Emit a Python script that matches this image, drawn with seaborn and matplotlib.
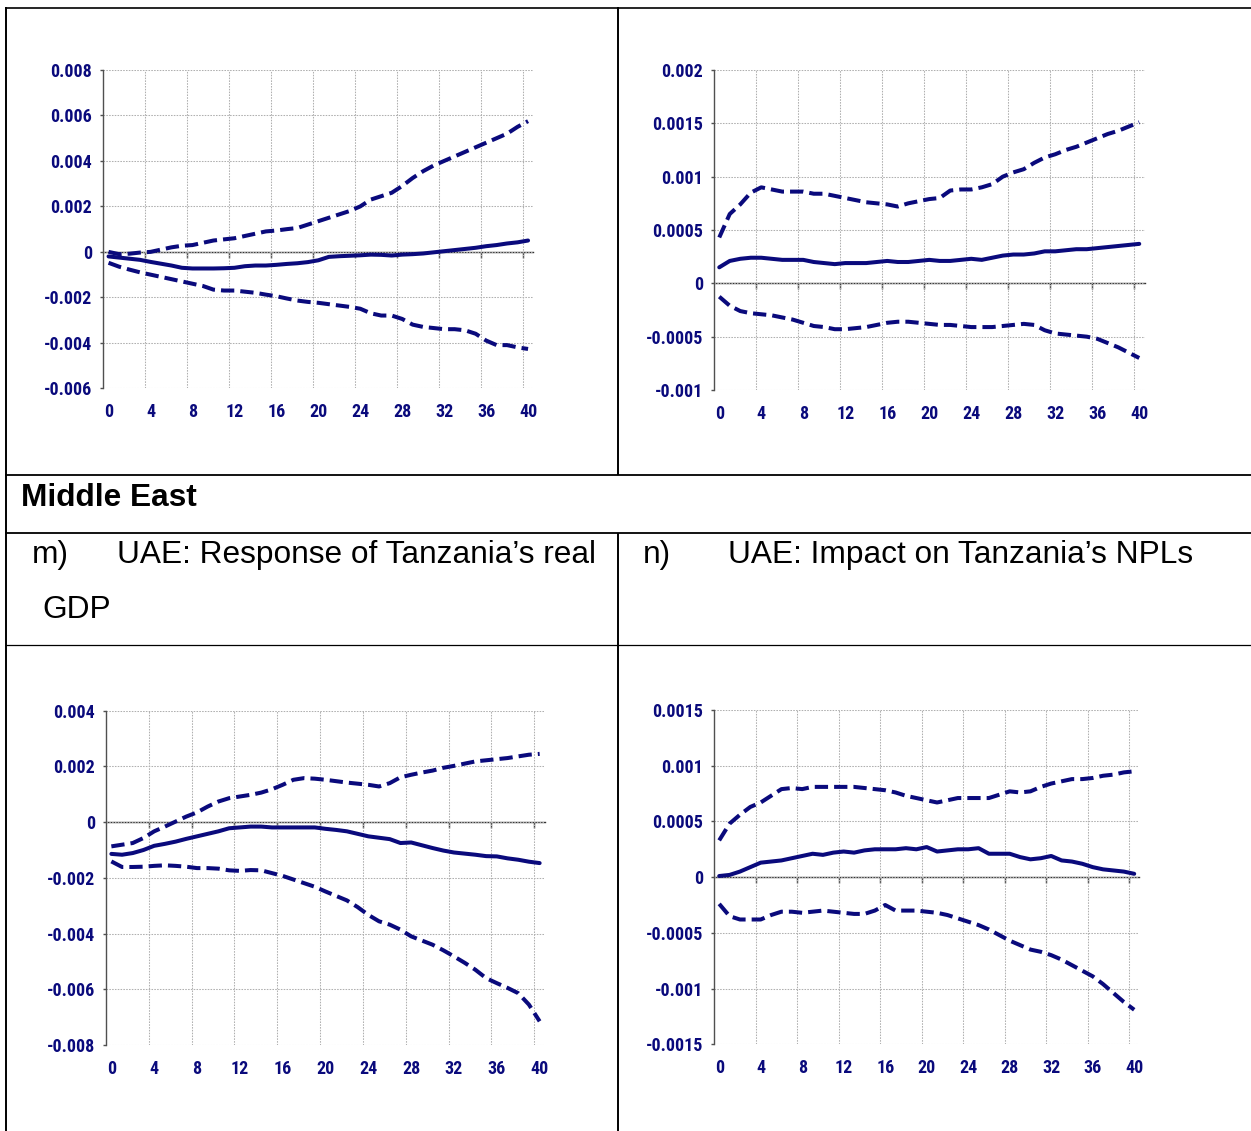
import numpy as np
import pandas as pd
import matplotlib
matplotlib.use("Agg")
import matplotlib.pyplot as plt
import seaborn as sns
from matplotlib.lines import Line2D
from matplotlib import font_manager

# ---------------- data ----------------
steps = list(range(41))
x_tick_labels = ["0", "4", "8", "12", "16", "20", "24", "28", "32", "36", "40"]

# top-left panel
tl_upper = [0.0, -0.0001, -0.00008, -0.00003, 0.0, 0.0001, 0.0002, 0.00027, 0.0003, 0.0004,
            0.0005, 0.00055, 0.0006, 0.0007, 0.0008, 0.0009, 0.00094, 0.001, 0.00105, 0.0012,
            0.00135, 0.0015, 0.00165, 0.0018, 0.002, 0.0023, 0.00245, 0.0026, 0.0029, 0.00325,
            0.00355, 0.0038, 0.004, 0.0042, 0.0044, 0.0046, 0.0048, 0.005, 0.0052, 0.0055, 0.00575]
tl_mid = [-0.0002, -0.00025, -0.0003, -0.00035, -0.00044, -0.00052, -0.0006, -0.0007, -0.00073, -0.00073,
          -0.00073, -0.00072, -0.0007, -0.00063, -0.0006, -0.0006, -0.00057, -0.00053, -0.0005, -0.00045,
          -0.00037, -0.00022, -0.00019, -0.00017, -0.00015, -0.00012, -0.00013, -0.00016, -0.00012, -0.0001,
          -0.00007, -0.00002, 0.00003, 0.00008, 0.00013, 0.00018, 0.00025, 0.0003, 0.00037, 0.00042, 0.0005]
tl_lower = [-0.00048, -0.00065, -0.00078, -0.0009, -0.001, -0.0011, -0.0012, -0.0013, -0.0014, -0.0015,
            -0.00166, -0.0017, -0.0017, -0.00175, -0.0018, -0.00188, -0.00195, -0.00205, -0.00214, -0.0022,
            -0.00224, -0.0023, -0.00236, -0.00242, -0.0025, -0.0027, -0.0028, -0.0028, -0.00295, -0.0032,
            -0.0033, -0.00335, -0.0034, -0.0034, -0.00345, -0.0036, -0.0039, -0.0041, -0.0041, -0.0042, -0.00427]
tl_yticks = [-0.006, -0.004, -0.002, 0.0, 0.002, 0.004, 0.006, 0.008]
tl_ylabels = ["-0.006", "-0.004", "-0.002", "0", "0.002", "0.004", "0.006", "0.008"]

# top-right panel
tr_upper = [0.00043, 0.00065, 0.00074, 0.00085, 0.0009, 0.00088, 0.00086, 0.00086, 0.00086, 0.00084,
            0.00084, 0.00082, 0.0008, 0.00078, 0.00076, 0.00075, 0.00074, 0.00072, 0.00075, 0.00077,
            0.00079, 0.0008, 0.00087, 0.00088, 0.00088, 0.0009, 0.00093, 0.001, 0.00104, 0.00107,
            0.00113, 0.00118, 0.00121, 0.00125, 0.00128, 0.00132, 0.00136, 0.0014, 0.00143, 0.00147, 0.00151]
tr_mid = [0.00015, 0.00021, 0.00023, 0.00024, 0.00024, 0.00023, 0.00022, 0.00022, 0.00022, 0.0002,
          0.00019, 0.00018, 0.00019, 0.00019, 0.00019, 0.0002, 0.00021, 0.0002, 0.0002, 0.00021,
          0.00022, 0.00021, 0.00021, 0.00022, 0.00023, 0.00022, 0.00024, 0.00026, 0.00027, 0.00027,
          0.00028, 0.0003, 0.0003, 0.00031, 0.00032, 0.00032, 0.00033, 0.00034, 0.00035, 0.00036, 0.00037]
tr_lower = [-0.000125, -0.00021, -0.00026, -0.00028, -0.00029, -0.0003, -0.00032, -0.00034, -0.00037, -0.0004,
            -0.00041, -0.00043, -0.00043, -0.00042, -0.00041, -0.00039, -0.00037, -0.00036, -0.00036, -0.00037,
            -0.00038, -0.00039, -0.00039, -0.0004, -0.00041, -0.00041, -0.00041, -0.0004, -0.00039, -0.00038,
            -0.00039, -0.00044, -0.00047, -0.00048, -0.00049, -0.0005, -0.00052, -0.00056, -0.0006, -0.00065, -0.0007]
tr_yticks = [-0.001, -0.0005, 0.0, 0.0005, 0.001, 0.0015, 0.002]
tr_ylabels = ["-0.001", "-0.0005", "0", "0.0005", "0.001", "0.0015", "0.002"]

# bottom-left panel: UAE -> Tanzania real GDP
bl_upper = [-0.00087, -0.00081, -0.00075, -0.00057, -0.00033, -0.00016, 0.00002, 0.0002, 0.00035, 0.00056,
            0.00074, 0.00086, 0.00092, 0.00098, 0.00106, 0.00118, 0.00134, 0.00152, 0.00158, 0.00156,
            0.00152, 0.00147, 0.00142, 0.00138, 0.00134, 0.00128, 0.0014, 0.00161, 0.0017, 0.00178,
            0.00185, 0.00195, 0.00202, 0.0021, 0.00218, 0.00222, 0.00226, 0.0023, 0.00236, 0.00242, 0.00245]
bl_mid = [-0.00114, -0.00117, -0.00111, -0.001, -0.00085, -0.00078, -0.0007, -0.0006, -0.00051, -0.00042,
          -0.00033, -0.00022, -0.00019, -0.00016, -0.00016, -0.00019, -0.00019, -0.00019, -0.00019, -0.00019,
          -0.00024, -0.00028, -0.00033, -0.00042, -0.00051, -0.00056, -0.00061, -0.00075, -0.00073, -0.00083,
          -0.00093, -0.00102, -0.00109, -0.00113, -0.00117, -0.00122, -0.00123, -0.0013, -0.00135, -0.00142, -0.00147]
bl_lower = [-0.00141, -0.00161, -0.00161, -0.0016, -0.00157, -0.00155, -0.00157, -0.0016, -0.00165, -0.00165,
            -0.00167, -0.00173, -0.00175, -0.00172, -0.00173, -0.00183, -0.00193, -0.00206, -0.00219, -0.00232,
            -0.00249, -0.00265, -0.00281, -0.00305, -0.00333, -0.00356, -0.00368, -0.00386, -0.0041, -0.00425,
            -0.0044, -0.0046, -0.00482, -0.00505, -0.0053, -0.0056, -0.00578, -0.00595, -0.00614, -0.00655, -0.00715]
bl_yticks = [-0.008, -0.006, -0.004, -0.002, 0.0, 0.002, 0.004]
bl_ylabels = ["-0.008", "-0.006", "-0.004", "-0.002", "0", "0.002", "0.004"]

# bottom-right panel: UAE -> Tanzania NPLs
br_upper = [0.00033, 0.00048, 0.00056, 0.00063, 0.00067, 0.00073, 0.00079, 0.0008, 0.00079, 0.00081,
            0.00081, 0.00081, 0.00081, 0.00081, 0.0008, 0.00079, 0.00078, 0.00076, 0.00073, 0.00071,
            0.00069, 0.00067, 0.00069, 0.00071, 0.00071, 0.00071, 0.00071, 0.00074, 0.00077, 0.00076,
            0.00077, 0.00081, 0.00084, 0.00086, 0.00088, 0.00088, 0.00089, 0.00091, 0.00092, 0.00094, 0.00095]
br_mid = [0.00001, 0.00002, 0.00005, 0.00009, 0.00013, 0.00014, 0.00015, 0.00017, 0.00019, 0.00021,
          0.0002, 0.00022, 0.00023, 0.00022, 0.00024, 0.00025, 0.00025, 0.00025, 0.00026, 0.00025,
          0.00027, 0.00023, 0.00024, 0.00025, 0.00025, 0.00026, 0.00021, 0.00021, 0.00021, 0.00018,
          0.00016, 0.00017, 0.00019, 0.00015, 0.00014, 0.00012, 0.00009, 0.00007, 0.00006, 0.00005, 0.00003]
br_lower = [-0.00024, -0.00035, -0.00038, -0.00038, -0.00038, -0.00034, -0.00031, -0.00031, -0.00032, -0.00031,
            -0.0003, -0.00031, -0.00032, -0.00033, -0.00033, -0.0003, -0.00025, -0.0003, -0.0003, -0.0003,
            -0.00031, -0.00032, -0.00034, -0.00037, -0.0004, -0.00043, -0.00047, -0.00052, -0.00057, -0.00061,
            -0.00065, -0.00067, -0.0007, -0.00074, -0.00079, -0.00084, -0.00089, -0.00096, -0.00104, -0.00112, -0.00119]
br_yticks = [-0.0015, -0.001, -0.0005, 0.0, 0.0005, 0.001, 0.0015]
br_ylabels = ["-0.0015", "-0.001", "-0.0005", "0", "0.0005", "0.001", "0.0015"]

section_title = "Middle East"
m_label, m_title, m_title2 = "m)", "UAE: Response of Tanzania\u2019s real", "GDP"
n_label, n_title = "n)", "UAE: Impact on Tanzania\u2019s NPLs"

# ---------------- style ----------------
sns.set_style("white")
plt.rcParams["font.family"] = ["Liberation Sans", "DejaVu Sans"]
plt.rcParams["text.color"] = "black"

# pick a condensed bold face for the tick labels if one is installed
TICK_FONT = None
TICK_SIZE = 11.0
for fam in ["Liberation Sans Narrow", "DejaVu Sans Condensed", "Roboto Condensed",
            "Open Sans Condensed", "Noto Sans Condensed", "Arial Narrow"]:
    try:
        font_manager.findfont(font_manager.FontProperties(family=fam, weight="bold"),
                              fallback_to_default=False)
        TICK_FONT = [fam, "DejaVu Sans"]
        TICK_SIZE = 13.0
        break
    except Exception:
        pass
if TICK_FONT is None:
    TICK_FONT = ["Liberation Sans", "DejaVu Sans"]

NAVY = "#0a0a7c"
W, H = 1251, 1131
fig = plt.figure(figsize=(W / 100, H / 100), dpi=100)
fig.patch.set_facecolor("white")

# background axes for the document table
bg = fig.add_axes([0, 0, 1, 1], zorder=-5)
bg.set_xlim(0, W)
bg.set_ylim(H, 0)
bg.axis("off")


def hline(y, x0, x1, lw):
    bg.add_line(Line2D([x0, x1], [y, y], color="black", lw=lw, solid_capstyle="butt"))


def vline(x, y0, y1, lw):
    bg.add_line(Line2D([x, x], [y0, y1], color="black", lw=lw, solid_capstyle="butt"))


hline(7.5, 5, W, 1.2)
hline(475.3, 5, W, 1.3)
hline(532.7, 5, W, 1.3)
hline(644.5, 5, W, 0.9)
vline(6, 6.5, H, 1.4)
vline(618, 6.5, 475.3, 1.4)
vline(618, 532.7, H, 1.4)

TXT = dict(fontsize=22.8, va="baseline", ha="left", color="black")
bg.text(21, 506.5, section_title, fontweight="bold", **TXT)
bg.text(32, 563.5, m_label, **TXT)
bg.text(117, 563.5, m_title, **TXT)
bg.text(42, 617.5, m_title2, **TXT)
bg.text(643, 563.5, n_label, **TXT)
bg.text(728, 563.5, n_title, **TXT)


def panel(l, t, r, b, lower, mid, upper, yticks, ylabels):
    ax = fig.add_axes([l / W, 1 - b / H, (r - l) / W, (b - t) / H])
    ax.set_facecolor("none")
    df = pd.DataFrame({
        "step": steps * 3,
        "value": upper + mid + lower,
        "band": ["upper"] * 41 + ["mid"] * 41 + ["lower"] * 41,
    })
    sns.lineplot(data=df, x="step", y="value", style="band",
                 style_order=["upper", "mid", "lower"],
                 dashes={"upper": (3.3, 1.5), "mid": "", "lower": (3.3, 1.5)},
                 color=NAVY, lw=2.9, ax=ax, legend=False, zorder=5)
    ax.set_xlabel("")
    ax.set_ylabel("")
    ax.set_xlim(-0.5, 40.5)
    ax.set_ylim(yticks[0], yticks[-1])
    ax.set_xticks(range(0, 41, 4))
    ax.set_xticklabels(x_tick_labels)
    ax.set_xticks(np.arange(3.5, 40, 4), minor=True)
    ax.set_yticks(yticks)
    ax.set_yticklabels(ylabels)
    ax.grid(False)
    ax.grid(which="minor", axis="x", ls=(0, (1.5, 1.2)), color="#b0b0b0", lw=0.75)
    ax.grid(which="major", axis="y", ls=(0, (1.5, 1.2)), color="#b0b0b0", lw=0.75)
    for s in ["top", "right", "bottom"]:
        ax.spines[s].set_visible(False)
    ax.spines["left"].set_color("#505050")
    ax.spines["left"].set_linewidth(1.0)
    ax.tick_params(axis="x", which="both", length=0, pad=10.5, bottom=False)
    ax.tick_params(axis="y", which="major", left=True, length=2.5, width=1.0,
                   color="#505050", pad=5.5)
    for lab in ax.get_xticklabels() + ax.get_yticklabels():
        lab.set_fontfamily(TICK_FONT)
        lab.set_fontweight("bold")
        lab.set_fontstretch("condensed")
        lab.set_color(NAVY)
        lab.set_fontsize(TICK_SIZE)
    sec = ax.secondary_xaxis(0, transform=ax.transData)
    sec.set_xticks(np.arange(3.5, 40, 4))
    sec.tick_params(axis="x", bottom=True, length=4.5, width=1.0, color="#333333",
                    labelbottom=False, direction="out")
    sec.spines["bottom"].set_color("#333333")
    sec.spines["bottom"].set_linewidth(1.0)
    return ax


panel(103.3, 70, 533.3, 388.3, tl_lower, tl_mid, tl_upper, tl_yticks, tl_ylabels)
panel(714, 70, 1144.5, 390, tr_lower, tr_mid, tr_upper, tr_yticks, tr_ylabels)
panel(106, 710.7, 545, 1045, bl_lower, bl_mid, bl_upper, bl_yticks, bl_ylabels)
panel(714, 710, 1139.4, 1044.3, br_lower, br_mid, br_upper, br_yticks, br_ylabels)

fig.savefig("out.png", dpi=100, facecolor="white")
